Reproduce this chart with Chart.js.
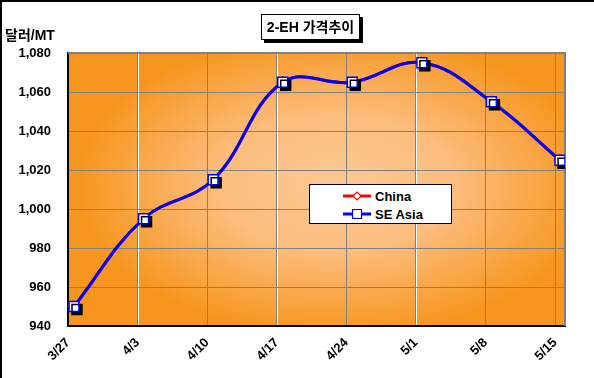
<!DOCTYPE html>
<html>
<head>
<meta charset="utf-8">
<script src="https://cdn.jsdelivr.net/npm/chart.js@4.4.0/dist/chart.umd.min.js"></script>
<style>
  body { margin: 0; background: #fff; }
  #wrap { position: relative; width: 594px; height: 378px; overflow: hidden; font-family: "Liberation Sans", Arial, "Noto Sans CJK KR", sans-serif; }
  #frame { position: absolute; left: 0; top: 0; width: 594px; height: 378px; box-sizing: border-box; border-top: 2px solid #000; border-left: 2px solid #000; pointer-events: none; }
  #title { position: absolute; left: 261px; top: 14px; width: 99px; height: 26px; box-sizing: border-box; border: 1px solid #000; background: #fff; box-shadow: 3px 3px 0 #000; font-weight: bold; font-size: 14px; line-height: 24px; text-align: center; white-space: nowrap; }
  #ylab { position: absolute; left: 5px; top: 24px; font-weight: bold; font-size: 14px; }
  #legend { position: absolute; left: 309px; top: 184px; width: 143px; height: 40px; box-sizing: border-box; border: 1px solid #000; background: #fff; font-weight: bold; font-size: 13px; }
  .row { position: absolute; left: 33px; height: 16px; display: flex; align-items: center; }
  .row svg { margin-right: 4px; }
</style>
</head>
<body>
<div id="wrap">
  <canvas id="c" width="594" height="378"></canvas>
  <div id="title">2-EH 가격추이</div>
  <div id="ylab">달러/MT</div>
  <div id="legend">
    <div class="row" style="top:3px">
      <svg width="28" height="10"><line x1="0" y1="5" x2="28" y2="5" stroke="#ff0000" stroke-width="3"/><path d="M14 1 L18 5 L14 9 L10 5 Z" fill="#fff" stroke="#ff0000" stroke-width="1.2"/></svg>China
    </div>
    <div class="row" style="top:21px">
      <svg width="28" height="10"><line x1="0" y1="5" x2="28" y2="5" stroke="#0000ff" stroke-width="3"/><rect x="9.5" y="0.5" width="9" height="9" fill="#fff" stroke="#0000ff" stroke-width="1.2"/></svg>SE Asia
    </div>
  </div>
  <div id="frame"></div>
</div>
<script>
// weekly date labels (x axis in days from 3/27)
const xLabels = ['3/27', '4/3', '4/10', '4/17', '4/24', '5/1', '5/8', '5/15'];
const xTickDays = [0, 7, 14, 21, 28, 35, 42, 49];
// where each price point sits on the day axis
const pointDays = [0.6, 7.6, 14.6, 21.6, 28.6, 35.6, 42.6, 49.5];
const seAsia = [950, 995, 1015, 1065, 1065, 1075, 1055, 1025];
const china  = [950, 995, 1015, 1065, 1065, 1075, 1055, 1025];

const pts = vals => vals.map((v, i) => ({ x: pointDays[i], y: v }));

const plotBg = {
  id: 'plotBg',
  beforeDraw(chart) {
    const { ctx, chartArea: a, scales } = chart;
    const w = a.right - a.left, h = a.bottom - a.top;
    const cx = a.left + w * 0.54, cy = a.top + h * 0.48;
    ctx.save();
    ctx.beginPath(); ctx.rect(a.left, a.top, w, h); ctx.clip();
    ctx.fillStyle = '#f7961e';
    ctx.fillRect(a.left, a.top, w, h);
    ctx.translate(cx, cy);
    ctx.scale(1, 0.58);
    const g = ctx.createRadialGradient(0, 0, 0, 0, 0, 260);
    g.addColorStop(0, '#fdc993');
    g.addColorStop(0.45, '#fcbd7e');
    g.addColorStop(1, '#f7961e');
    ctx.fillStyle = g;
    ctx.fillRect(-w, -h * 2, w * 2, h * 4);
    ctx.restore();
    // white under-lines for the two-tone dashed grid
    ctx.save();
    ctx.strokeStyle = '#ffffff'; ctx.lineWidth = 1;
    scales.x.ticks.forEach(t => {
      const x = Math.round(scales.x.getPixelForValue(t.value)) + 0.5;
      ctx.beginPath(); ctx.moveTo(x, a.top); ctx.lineTo(x, a.bottom); ctx.stroke();
    });
    scales.y.ticks.forEach(t => {
      const y = Math.round(scales.y.getPixelForValue(t.value)) + 0.5;
      ctx.beginPath(); ctx.moveTo(a.left, y); ctx.lineTo(a.right, y); ctx.stroke();
    });
    ctx.restore();
  },
  beforeDatasetsDraw(chart) {
    const { ctx, chartArea: a } = chart;
    ctx.save();
    ctx.strokeStyle = '#808080'; ctx.lineWidth = 2;
    ctx.beginPath();
    ctx.moveTo(a.left, a.top); ctx.lineTo(a.right, a.top); ctx.lineTo(a.right, a.bottom);
    ctx.stroke();
    ctx.restore();
  },
  beforeDatasetDraw(chart, args) {
    if (args.meta.dataset && chart.data.datasets[args.index].shadow) {
      const ctx = chart.ctx;
      ctx.shadowColor = '#000'; ctx.shadowOffsetX = 3; ctx.shadowOffsetY = 3; ctx.shadowBlur = 0;
    }
  }
};

new Chart(document.getElementById('c'), {
  type: 'line',
  data: {
    datasets: [
      { label: 'SE Asia markers', data: pts(seAsia), showLine: false, shadow: true, order: 0,
        pointStyle: 'rect', pointRadius: 7, pointBackgroundColor: '#ffffff', pointBorderColor: '#0000ff', pointBorderWidth: 1.5 },
      { label: 'SE Asia', data: pts(seAsia), borderColor: '#0000ff', borderWidth: 3, pointRadius: 0, tension: 0.4, order: 1 },
      { label: 'China', data: pts(china), borderColor: '#ff0000', borderWidth: 3, tension: 0.4, order: 2,
        pointStyle: 'rectRot', pointRadius: 6, pointBackgroundColor: '#ffffff', pointBorderColor: '#ff0000', pointBorderWidth: 1 }
    ]
  },
  options: {
    responsive: false, animation: false,
    layout: { padding: { left: 0, top: 53, right: 29, bottom: 0 } },
    plugins: { legend: { display: false }, tooltip: { enabled: false } },
    scales: {
      x: {
        type: 'linear', min: 0, max: 50,
        afterBuildTicks: s => { s.ticks = xTickDays.map(v => ({ value: v })); },
        afterFit: s => { s.height = 52; },
        grid: { color: '#808080', borderDash: [3, 2], drawTicks: false },
        border: { color: '#000', width: 2 },
        ticks: {
          color: '#000', font: { family: 'Liberation Sans', size: 13, weight: 'bold' },
          maxRotation: 45, minRotation: 45, padding: 9, autoSkip: false,
          callback: v => xLabels[xTickDays.indexOf(v)]
        }
      },
      y: {
        min: 940, max: 1080,
        afterFit: s => { s.width = 68; },
        grid: { color: '#808080', borderDash: [3, 2], drawTicks: false },
        border: { color: '#000', width: 2 },
        ticks: {
          stepSize: 20, padding: 17, color: '#000',
          font: { family: 'Liberation Sans', size: 13, weight: 'bold' },
          callback: v => v.toLocaleString('en-US')
        }
      }
    }
  },
  plugins: [plotBg]
});
</script>
</body>
</html>
